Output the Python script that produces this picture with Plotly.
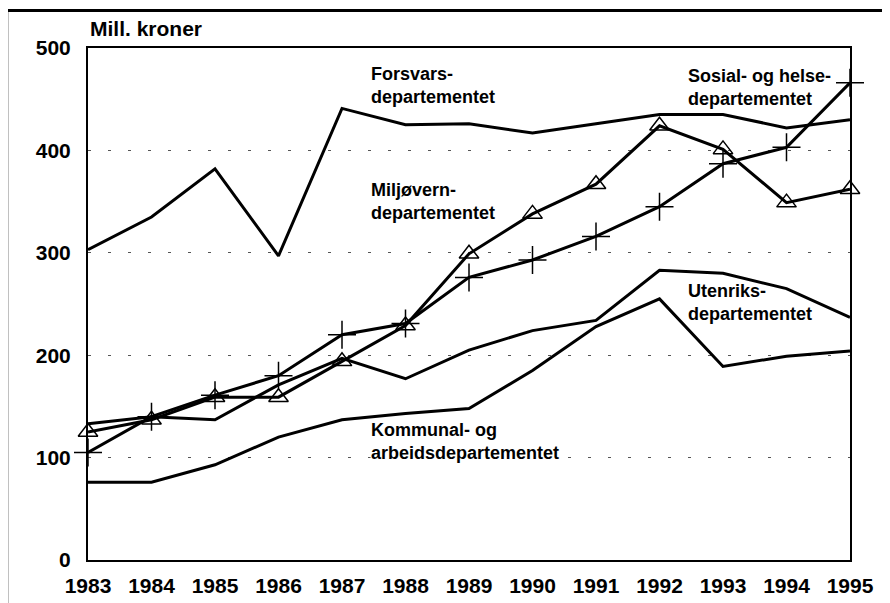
import plotly.graph_objects as go

years = list(range(1983, 1996))

forsvar = [303, 335, 382, 297, 441, 425, 426, 417, 426, 435, 435, 422, 430]
sosial = [105, 140, 161, 180, 220, 231, 276, 293, 316, 345, 387, 403, 466]
miljo = [125, 137, 159, 159, 194, 229, 299, 338, 367, 424, 401, 349, 362]
utenriks = [133, 140, 137, 171, 197, 177, 205, 224, 234, 283, 280, 265, 237]
kommunal = [76, 76, 93, 120, 137, 143, 148, 185, 228, 255, 189, 199, 204]

labels = [
    ("Forsvars-<br>departementet", 1987.44, 463, False),
    ("Sosial- og helse-<br>departementet", 1992.43, 461, False),
    ("Miljøvern-<br>departementet", 1987.44, 350, False),
    ("Utenriks-<br>departementet", 1992.43, 251, False),
    ("Kommunal- og<br>arbeidsdepartementet", 1987.44, 116, True),
]

FONT = "Liberation Sans, Arial, sans-serif"

fig = go.Figure()

line = dict(color="black", width=3)

fig.add_trace(go.Scatter(x=years, y=forsvar, mode="lines", line=line))
fig.add_trace(go.Scatter(x=years, y=utenriks, mode="lines", line=line))
fig.add_trace(go.Scatter(x=years, y=kommunal, mode="lines", line=line))
fig.add_trace(go.Scatter(
    x=years, y=sosial, mode="lines+markers", line=line, cliponaxis=False,
    marker=dict(symbol="cross-thin-open", size=20, line=dict(color="black", width=1.5)),
))
fig.add_trace(go.Scatter(
    x=years, y=miljo, mode="lines+markers", line=line, cliponaxis=False,
    marker=dict(symbol="triangle-up-open", size=17, color="black",
                line=dict(color="black", width=1.5)),
))

for text, x, y, bg in labels:
    fig.add_annotation(
        x=x, y=y, text=text, showarrow=False, xanchor="left", yanchor="middle",
        align="left", font=dict(size=18, family=FONT, color="black", weight="bold"),
        bgcolor="white" if bg else None, borderpad=0,
    )

fig.add_annotation(
    x=0, y=1.0, xref="paper", yref="paper", text="Mill. kroner", showarrow=False,
    xanchor="left", yanchor="bottom", yshift=6,
    font=dict(size=21, family=FONT, color="black", weight="bold"),
)

# ramme: bare topp og venstre kant, som i det skannede originalet
fig.add_shape(type="line", xref="paper", yref="paper",
              x0=-0.1063, x1=1.06, y0=1.0732, y1=1.0732,
              line=dict(color="black", width=3))
fig.add_shape(type="line", xref="paper", yref="paper",
              x0=-0.1063, x1=-0.1063, y0=-0.09, y1=1.0732,
              line=dict(color="black", width=2.5))

# siden har 8px body-marg, så marginene er justert for det
fig.update_layout(
    width=890, height=603,
    margin=dict(l=80, r=48, t=40, b=51),
    paper_bgcolor="white", plot_bgcolor="white",
    showlegend=False,
    font=dict(family=FONT, size=21, color="black", weight="bold"),
)
fig.update_xaxes(
    range=[1983, 1995], tickvals=years, showgrid=False, zeroline=False,
    showline=True, linecolor="black", linewidth=2, mirror=True,
    ticks="", ticklabelstandoff=6,
)
fig.update_yaxes(
    range=[0, 500], tickvals=[0, 100, 200, 300, 400, 500],
    showgrid=True, gridcolor="#555555", gridwidth=1, griddash="3px,17px",
    zeroline=False, showline=True, linecolor="black", linewidth=2, mirror=True,
    ticks="", ticklabelstandoff=11,
)

fig.write_html("out.html")
